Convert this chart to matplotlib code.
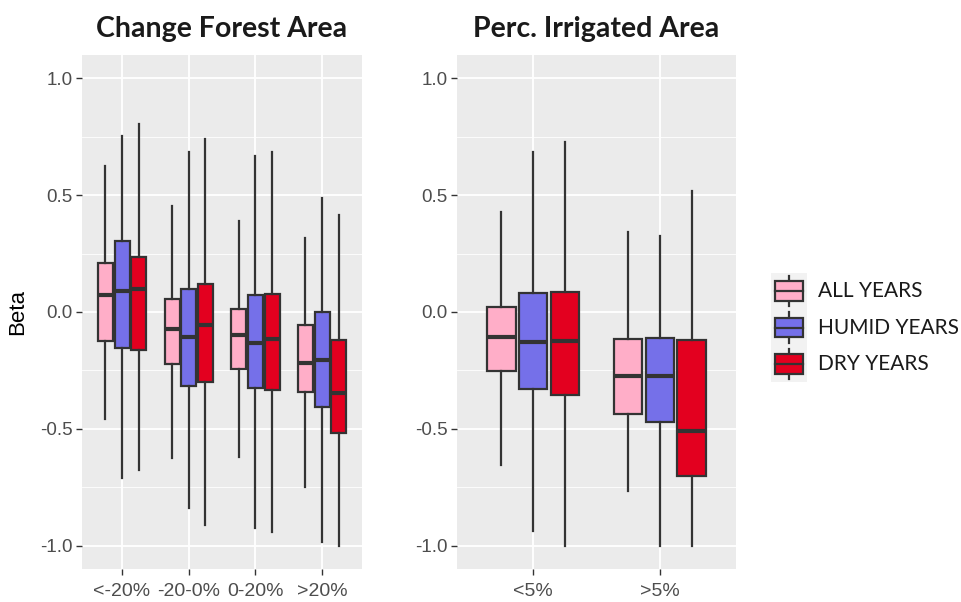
import matplotlib
matplotlib.use("Agg")
import matplotlib.pyplot as plt
from matplotlib.patches import Rectangle
import numpy as np

# ---- data ----
groups = ["ALL YEARS", "HUMID YEARS", "DRY YEARS"]
colors = ["#FFAEC8", "#7570E9", "#E3001F"]

forest_cats = ["<-20%", "-20-0%", "0-20%", ">20%"]
# per group: lists over categories
forest_whislo = {"ALL YEARS": [-0.46, -0.624, -0.62, -0.75],
                 "HUMID YEARS": [-0.712, -0.839, -0.923, -0.985],
                 "DRY YEARS": [-0.677, -0.913, -0.94, -1.0]}
forest_q1 = {"ALL YEARS": [-0.126, -0.224, -0.245, -0.342],
             "HUMID YEARS": [-0.154, -0.315, -0.326, -0.406],
             "DRY YEARS": [-0.161, -0.298, -0.332, -0.52]}
forest_med = {"ALL YEARS": [0.073, -0.073, -0.10, -0.217],
              "HUMID YEARS": [0.088, -0.107, -0.134, -0.207],
              "DRY YEARS": [0.098, -0.054, -0.114, -0.346]}
forest_q3 = {"ALL YEARS": [0.208, 0.056, 0.013, -0.057],
             "HUMID YEARS": [0.306, 0.10, 0.073, 0.0],
             "DRY YEARS": [0.236, 0.121, 0.078, -0.12]}
forest_whishi = {"ALL YEARS": [0.625, 0.454, 0.389, 0.315],
                 "HUMID YEARS": [0.755, 0.684, 0.668, 0.49],
                 "DRY YEARS": [0.805, 0.742, 0.686, 0.415]}

irr_cats = ["<5%", ">5%"]
irr_whislo = {"ALL YEARS": [-0.653, -0.765],
              "HUMID YEARS": [-0.936, -1.0],
              "DRY YEARS": [-1.0, -1.0]}
irr_q1 = {"ALL YEARS": [-0.252, -0.435],
          "HUMID YEARS": [-0.328, -0.472],
          "DRY YEARS": [-0.354, -0.703]}
irr_med = {"ALL YEARS": [-0.106, -0.275],
           "HUMID YEARS": [-0.128, -0.275],
           "DRY YEARS": [-0.123, -0.508]}
irr_q3 = {"ALL YEARS": [0.021, -0.116],
          "HUMID YEARS": [0.08, -0.111],
          "DRY YEARS": [0.086, -0.118]}
irr_whishi = {"ALL YEARS": [0.427, 0.342],
              "HUMID YEARS": [0.683, 0.324],
              "DRY YEARS": [0.726, 0.516]}

yticks = [-1.0, -0.5, 0.0, 0.5, 1.0]
ytick_labels = ["-1.0", "-0.5", "0.0", "0.5", "1.0"]

W, H = 962, 602
fig = plt.figure(figsize=(W / 100, H / 100), dpi=100)

TICK_FONT = "Liberation Sans"
TITLE_FONT = "Lato"
EDGE = "#333333"


def fx(px):
    return px / W


def fy(py):
    return 1 - py / H


def panel(rect_px, cats, whislo, q1, med, q3, whishi, title):
    x0, y0, x1, y1 = rect_px
    ax = fig.add_axes([fx(x0), fy(y1), fx(x1 - x0), (y1 - y0) / H])
    ax.set_facecolor("#EBEBEB")
    for s in ax.spines.values():
        s.set_visible(False)
    n = len(cats)
    ax.set_xlim(0.4, n + 0.6)
    ax.set_ylim(-1.1, 1.1)
    # grid
    for v in [-0.75, -0.25, 0.25, 0.75]:
        ax.axhline(v, color="white", lw=0.6, zorder=0)
    for v in yticks:
        ax.axhline(v, color="white", lw=1.3, zorder=0)
    for i in range(n):
        ax.axvline(i + 1, color="white", lw=1.3, zorder=0)
    offsets = [-0.25, 0.0, 0.25]
    for g, (grp, col) in enumerate(zip(groups, colors)):
        stats = []
        for i in range(n):
            stats.append(dict(whislo=whislo[grp][i], q1=q1[grp][i], med=med[grp][i],
                              q3=q3[grp][i], whishi=whishi[grp][i], fliers=[]))
        pos = [i + 1 + offsets[g] for i in range(n)]
        ax.bxp(stats, positions=pos, widths=0.225, showcaps=False, showfliers=False,
               patch_artist=True, manage_ticks=False,
               boxprops=dict(facecolor=col, edgecolor=EDGE, linewidth=1.6),
               medianprops=dict(color=EDGE, linewidth=3.0, solid_capstyle="butt"),
               whiskerprops=dict(color=EDGE, linewidth=1.6))
    ax.set_yticks(yticks)
    ax.set_yticklabels(ytick_labels, fontsize=13.5, color="#4D4D4D", family=TICK_FONT)
    ax.set_xticks(range(1, n + 1))
    ax.set_xticklabels(cats, fontsize=14, color="#4D4D4D", family=TICK_FONT)
    ax.tick_params(axis="both", length=4, width=1.0, color="#333333", pad=3)
    ax.tick_params(axis="x", pad=6)
    ax.set_title(title, fontsize=20.5, fontweight="bold", family=TITLE_FONT, color="#1A1A1A", pad=13)
    return ax


axL = panel((82, 55, 362, 569), forest_cats, forest_whislo, forest_q1, forest_med,
            forest_q3, forest_whishi, "Change Forest Area")
axL.set_ylabel("Beta", fontsize=16, family=TICK_FONT, color="black", labelpad=8)
axR = panel((457, 55, 736, 569), irr_cats, irr_whislo, irr_q1, irr_med,
            irr_q3, irr_whishi, "Perc. Irrigated Area")

# ---- legend ----
lx0, ly0, lx1, ly1 = 771, 273, 807, 382
lax = fig.add_axes([fx(lx0), fy(ly1), fx(lx1 - lx0), (ly1 - ly0) / H])
lax.set_xlim(0, 1)
lax.set_ylim(3, 0)
lax.set_facecolor("#F2F2F2")
for s in lax.spines.values():
    s.set_visible(False)
lax.set_xticks([])
lax.set_yticks([])
for i, (grp, col) in enumerate(zip(groups, colors)):
    c = i + 0.5
    lax.plot([0.5, 0.5], [c - 0.42, c + 0.42], color=EDGE, lw=1.6, zorder=1)
    lax.add_patch(Rectangle((0.1, c - 0.27), 0.8, 0.54, facecolor=col, edgecolor=EDGE,
                            lw=1.6, zorder=2))
    lax.plot([0.1, 0.9], [c, c], color=EDGE, lw=1.6, zorder=3)
    fig.text(fx(818), fy(ly0 + (i + 0.5) * (ly1 - ly0) / 3), grp, fontsize=15,
             family=TITLE_FONT, va="center", ha="left", color="#1A1A1A")

fig.savefig("out.png", dpi=100, facecolor="white")
